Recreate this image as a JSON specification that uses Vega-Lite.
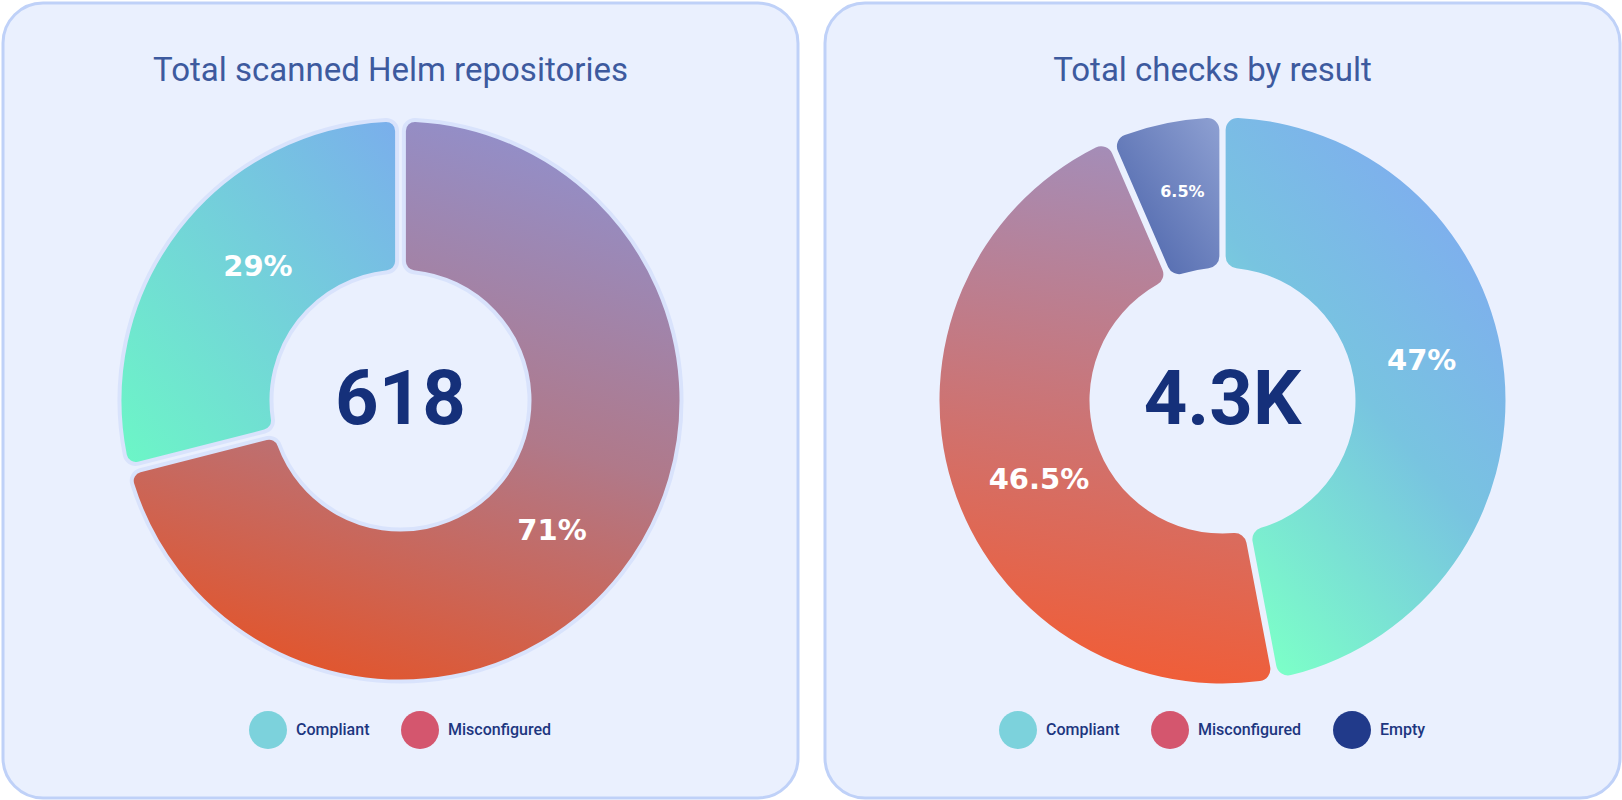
{
  "$schema": "https://vega.github.io/schema/vega-lite/v6.json",
  "background": "white",
  "padding": {"left": 1, "top": 1, "right": 1, "bottom": 1},
  "spacing": 23,
  "resolve": {"scale": {"color": "independent", "theta": "independent"}, "legend": {"color": "independent"}},
  "config": {
    "view": {"fill": "#EAF0FE", "stroke": "#BFD1F8", "strokeWidth": 3, "cornerRadius": 40},
    "title": {"font": "Roboto", "fontSize": 33, "fontWeight": 400, "color": "#3D5A9E", "anchor": "middle", "frame": "group", "offset": -85, "dx": -10},
    "legend": {
      "title": null, "orient": "none", "direction": "horizontal", "symbolType": "circle", "symbolSize": 1444, "symbolOpacity": 1,
      "labelFont": "Roboto", "labelFontSize": 16, "labelFontWeight": 500, "labelColor": "#1D3680",
      "labelOffset": 9, "columnPadding": 31, "symbolStrokeWidth": 0
    }
  },
  "hconcat": [
    {
      "width": 795, "height": 795,
      "view": {"fill": "#EAF0FE", "stroke": "#BFD1F8", "strokeWidth": 3, "cornerRadius": 40},
      "title": {"text": "Total scanned Helm repositories"},
      "data": {"values": [
        {"category": "Compliant", "count": 179, "label": "29%"},
        {"category": "Misconfigured", "count": 439, "label": "71%"}
      ]},
      "layer": [
        {
          "transform": [
            {"stack": "count", "groupby": [], "sort": [{"field": "count", "order": "descending"}], "as": ["c0", "c1"]},
            {"filter": "datum.category === 'Compliant'"}
          ],
          "mark": {"type": "arc", "innerRadius": 129, "outerRadius": 281, "padAngle": 0.022, "cornerRadius": 11, "stroke": "#D9E3FC", "strokeWidth": 4,
            "fill": {"gradient": "linear", "x1": 1, "y1": 0, "x2": 0, "y2": 1, "stops": [{"offset": 0, "color": "#7AAEEC"}, {"offset": 1, "color": "#6CF7C6"}]}},
          "encoding": {"theta": {"field": "c0", "type": "quantitative"}, "theta2": {"field": "c1"}}
        },
        {
          "transform": [
            {"stack": "count", "groupby": [], "sort": [{"field": "count", "order": "descending"}], "as": ["c0", "c1"]},
            {"filter": "datum.category === 'Misconfigured'"}
          ],
          "mark": {"type": "arc", "innerRadius": 129, "outerRadius": 281, "padAngle": 0.022, "cornerRadius": 11, "stroke": "#D9E3FC", "strokeWidth": 4,
            "fill": {"gradient": "linear", "x1": 0.65, "y1": 0, "x2": 0.35, "y2": 1, "stops": [{"offset": 0, "color": "#928FCA"}, {"offset": 0.5, "color": "#B0798A"}, {"offset": 1, "color": "#E2552C"}]}},
          "encoding": {"theta": {"field": "c0", "type": "quantitative"}, "theta2": {"field": "c1"}}
        },
        {
          "mark": {"type": "text", "radius": 195, "thetaOffset": 0.09, "font": "DejaVu Sans", "fontWeight": "bold", "fontSize": 29, "align": "center", "baseline": "middle", "color": "#FFFFFF"},
          "encoding": {
            "theta": {"field": "count", "type": "quantitative", "stack": true},
            "order": {"field": "count", "sort": "descending"},
            "text": {"condition": {"test": "datum.category === 'Compliant'", "field": "label"}, "value": ""}
          }
        },
        {
          "mark": {"type": "text", "radius": 200, "thetaOffset": 0.05, "font": "DejaVu Sans", "fontWeight": "bold", "fontSize": 29, "align": "center", "baseline": "middle", "color": "#FFFFFF"},
          "encoding": {
            "theta": {"field": "count", "type": "quantitative", "stack": true},
            "order": {"field": "count", "sort": "descending"},
            "text": {"condition": {"test": "datum.category === 'Misconfigured'", "field": "label"}, "value": ""}
          }
        },
        {
          "mark": {"type": "circle", "opacity": 0, "size": 0},
          "encoding": {
            "color": {"field": "category", "type": "nominal",
              "scale": {"domain": ["Compliant", "Misconfigured"], "range": ["#7CD2DC", "#D4566E"]},
              "legend": {"legendX": 246, "legendY": 708}
            }
          }
        },
        {
          "data": {"values": [{"total": "618"}]},
          "mark": {"type": "text", "font": "Roboto", "fontWeight": "bold", "fontSize": 76, "color": "#15307A", "align": "center", "baseline": "middle"},
          "encoding": {"text": {"field": "total"}}
        }
      ]
    },
    {
      "width": 795, "height": 795,
      "view": {"fill": "#EAF0FE", "stroke": "#BFD1F8", "strokeWidth": 3, "cornerRadius": 40},
      "title": {"text": "Total checks by result"},
      "data": {"values": [
        {"category": "Compliant", "share": 47, "label": "47%"},
        {"category": "Misconfigured", "share": 46.5, "label": "46.5%"},
        {"category": "Empty", "share": 6.5, "label": "6.5%"}
      ]},
      "layer": [
        {
          "transform": [
            {"stack": "share", "groupby": [], "sort": [{"field": "share", "order": "descending"}], "as": ["s0", "s1"]},
            {"filter": "datum.category === 'Compliant'"}
          ],
          "mark": {"type": "arc", "innerRadius": 133, "outerRadius": 283, "padAngle": 0.02, "cornerRadius": 12,
            "fill": {"gradient": "linear", "x1": 0.8, "y1": 0, "x2": 0.2, "y2": 1, "stops": [{"offset": 0, "color": "#80A8F2"}, {"offset": 0.5, "color": "#78C4E0"}, {"offset": 1, "color": "#7CFFC8"}]}},
          "encoding": {"theta": {"field": "s0", "type": "quantitative"}, "theta2": {"field": "s1"}}
        },
        {
          "transform": [
            {"stack": "share", "groupby": [], "sort": [{"field": "share", "order": "descending"}], "as": ["s0", "s1"]},
            {"filter": "datum.category === 'Misconfigured'"}
          ],
          "mark": {"type": "arc", "innerRadius": 133, "outerRadius": 283, "padAngle": 0.02, "cornerRadius": 12,
            "fill": {"gradient": "linear", "x1": 0.55, "y1": 0, "x2": 0.45, "y2": 1, "stops": [{"offset": 0, "color": "#A48DB8"}, {"offset": 1, "color": "#F25C34"}]}},
          "encoding": {"theta": {"field": "s0", "type": "quantitative"}, "theta2": {"field": "s1"}}
        },
        {
          "transform": [
            {"stack": "share", "groupby": [], "sort": [{"field": "share", "order": "descending"}], "as": ["s0", "s1"]},
            {"filter": "datum.category === 'Empty'"}
          ],
          "mark": {"type": "arc", "innerRadius": 133, "outerRadius": 283, "padAngle": 0.02, "cornerRadius": 12,
            "fill": {"gradient": "linear", "x1": 1, "y1": 0, "x2": 0, "y2": 1, "stops": [{"offset": 0, "color": "#8EA0D2"}, {"offset": 1, "color": "#4760A8"}]}},
          "encoding": {"theta": {"field": "s0", "type": "quantitative"}, "theta2": {"field": "s1"}}
        },
        {
          "mark": {"type": "text", "radius": 203, "thetaOffset": -0.1, "font": "DejaVu Sans", "fontWeight": "bold", "fontSize": 29, "align": "center", "baseline": "middle", "color": "#FFFFFF"},
          "encoding": {
            "theta": {"field": "share", "type": "quantitative", "stack": true},
            "order": {"field": "share", "sort": "descending"},
            "text": {"condition": {"test": "datum.category === 'Compliant'", "field": "label"}, "value": ""}
          }
        },
        {
          "mark": {"type": "text", "radius": 200, "thetaOffset": -0.11, "font": "DejaVu Sans", "fontWeight": "bold", "fontSize": 29, "align": "center", "baseline": "middle", "color": "#FFFFFF"},
          "encoding": {
            "theta": {"field": "share", "type": "quantitative", "stack": true},
            "order": {"field": "share", "sort": "descending"},
            "text": {"condition": {"test": "datum.category === 'Misconfigured'", "field": "label"}, "value": ""}
          }
        },
        {
          "mark": {"type": "text", "radius": 212, "thetaOffset": 0.014, "font": "DejaVu Sans", "fontWeight": "bold", "fontSize": 16, "align": "center", "baseline": "middle", "color": "#FFFFFF"},
          "encoding": {
            "theta": {"field": "share", "type": "quantitative", "stack": true},
            "order": {"field": "share", "sort": "descending"},
            "text": {"condition": {"test": "datum.category === 'Empty'", "field": "label"}, "value": ""}
          }
        },
        {
          "mark": {"type": "circle", "opacity": 0, "size": 0},
          "encoding": {
            "color": {"field": "category", "type": "nominal",
              "scale": {"domain": ["Compliant", "Misconfigured", "Empty"], "range": ["#7CD2DC", "#D4566E", "#213A8A"]},
              "legend": {"legendX": 174, "legendY": 708}
            }
          }
        },
        {
          "data": {"values": [{"total": "4.3K"}]},
          "mark": {"type": "text", "font": "Roboto", "fontWeight": "bold", "fontSize": 76, "color": "#15307A", "align": "center", "baseline": "middle"},
          "encoding": {"text": {"field": "total"}}
        }
      ]
    }
  ]
}
